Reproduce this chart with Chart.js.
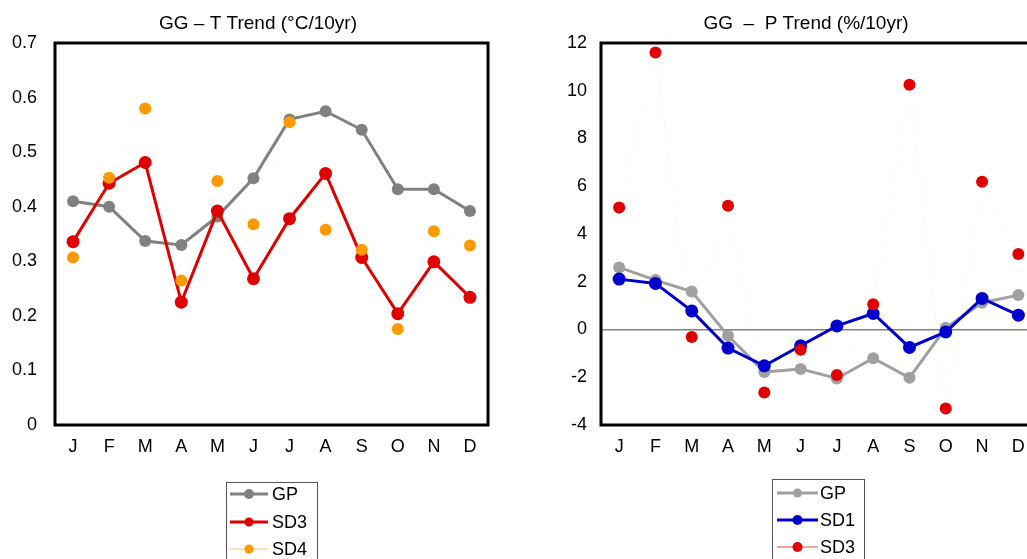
<!DOCTYPE html>
<html>
<head>
<meta charset="utf-8">
<script src="https://cdn.jsdelivr.net/npm/chart.js@4.4.1/dist/chart.umd.min.js"></script>
<style>
  html, body { margin: 0; padding: 0; background: #fff; overflow: hidden; width: 1027px; height: 559px; }
  canvas { position: absolute; top: 0; }
  #tChart { left: 0; }
  #pChart { left: 513px; }
</style>
</head>
<body>
<canvas id="tChart" width="513" height="559"></canvas>
<canvas id="pChart" width="530" height="559"></canvas>
<script>
// mois
const months = ['J', 'F', 'M', 'A', 'M', 'J', 'J', 'A', 'S', 'O', 'N', 'D'];

// tendance température (°C/10yr)
const tGP  = [0.41, 0.40, 0.337, 0.33, 0.382, 0.452, 0.56, 0.575, 0.541, 0.432, 0.432, 0.392];
const tSD3 = [0.336, 0.443, 0.481, 0.225, 0.392, 0.268, 0.378, 0.461, 0.307, 0.204, 0.299, 0.234];
const tSD4 = [0.307, 0.453, 0.58, 0.265, 0.447, 0.368, 0.555, 0.358, 0.321, 0.176, 0.355, 0.329];
const tTicks = [0, 0.1, 0.2, 0.3, 0.4, 0.5, 0.6, 0.7];

// tendance précipitations (%/10yr)
const pGP  = [2.6, 2.07, 1.59, -0.26, -1.78, -1.65, -2.05, -1.2, -2.02, 0.07, 1.12, 1.44];
const pSD1 = [2.11, 1.93, 0.78, -0.78, -1.52, -0.68, 0.15, 0.67, -0.75, -0.1, 1.3, 0.6];
const pSD3 = [5.11, 11.6, -0.31, 5.18, -2.64, -0.85, -1.91, 1.06, 10.25, -3.31, 6.19, 3.16];
const pTicks = [-4, -2, 0, 2, 4, 6, 8, 10, 12];

const FONT = '"Liberation Sans", Arial, sans-serif';
Chart.defaults.font.family = FONT;
Chart.defaults.font.size = 18;
Chart.defaults.color = '#000';

// titre dessiné à la main (position libre)
const titlePlugin = {
  id: 'freeTitle',
  afterDraw(chart, args, opts) {
    const ctx = chart.ctx;
    ctx.save();
    ctx.font = '19px ' + FONT;
    ctx.fillStyle = '#000';
    ctx.textAlign = 'center';
    ctx.textBaseline = 'middle';
    ctx.fillText(opts.text, opts.x, opts.y);
    ctx.restore();
  }
};

// cadre noir autour de la zone du graphique
const framePlugin = {
  id: 'frame',
  beforeDatasetsDraw(chart) {
    const a = chart.chartArea;
    const ctx = chart.ctx;
    ctx.save();
    ctx.strokeStyle = '#000';
    ctx.lineWidth = 3;
    ctx.strokeRect(a.left, a.top, a.right - a.left, a.bottom - a.top);
    ctx.restore();
  }
};

// légende encadrée sous le graphique
const boxLegendPlugin = {
  id: 'boxLegend',
  afterDraw(chart, args, opts) {
    const ctx = chart.ctx;
    ctx.save();
    ctx.strokeStyle = '#555';
    ctx.lineWidth = 1;
    ctx.strokeRect(opts.x + 0.5, opts.y + 0.5, opts.w, 200);
    opts.items.forEach((it, i) => {
      const y = opts.rows[i];
      ctx.strokeStyle = it.line;
      ctx.lineWidth = it.lw;
      ctx.beginPath();
      ctx.moveTo(opts.x1, y);
      ctx.lineTo(opts.x2, y);
      ctx.stroke();
      ctx.fillStyle = it.dot;
      ctx.beginPath();
      ctx.ellipse((opts.x1 + opts.x2) / 2, y, it.r, it.r, 0, 0, Math.PI * 2);
      ctx.fill();
      ctx.fillStyle = '#000';
      ctx.font = '18px ' + FONT;
      ctx.textBaseline = 'middle';
      ctx.fillText(it.label, opts.tx, y + 1);
    });
    ctx.restore();
  }
};

function lineSet(label, data, color, width, radius, order) {
  return {
    label: label,
    data: data,
    borderColor: color,
    backgroundColor: color,
    borderWidth: width,
    pointRadius: radius,
    pointHoverRadius: radius,
    pointBorderWidth: 0,
    tension: 0,
    fill: false,
    order: order
  };
}

//---------------------------------------- graphique température ----------------------------------------
const tDatasets = [
  lineSet('GP', tGP, '#808080', 3, 6, 3),
  lineSet('SD3', tSD3, '#e00000', 3, 6.5, 2),
  Object.assign(lineSet('SD4', tSD4, 'rgba(255,200,110,0.09)', 1, 6, 1), {
    pointBackgroundColor: '#ff9900'
  })
];

new Chart(document.getElementById('tChart').getContext('2d'), {
  type: 'line',
  data: { labels: months, datasets: tDatasets },
  plugins: [titlePlugin, framePlugin, boxLegendPlugin],
  options: {
    responsive: false,
    animation: false,
    layout: { padding: { top: 43, right: 25, bottom: 94, left: 0 } },
    plugins: {
      legend: { display: false },
      tooltip: { enabled: false },
      freeTitle: { text: 'GG – T Trend (°C/10yr)', x: 258, y: 24 },
      boxLegend: {
        x: 226, y: 482, w: 91, x1: 230, x2: 268, tx: 272,
        rows: [494, 522, 549],
        items: [
          { label: 'GP', line: '#808080', lw: 3, dot: '#808080', r: 5 },
          { label: 'SD3', line: '#e00000', lw: 3, dot: '#e00000', r: 4.5 },
          { label: 'SD4', line: '#ffc870', lw: 1.2, dot: '#ff9900', r: 4.5 }
        ]
      }
    },
    scales: {
      x: {
        offset: true,
        grid: { display: false, drawTicks: false },
        border: { display: false },
        ticks: { padding: 11, maxRotation: 0, autoSkip: false },
        afterFit: s => { s.height = 40; }
      },
      y: {
        min: 0,
        max: 0.7,
        afterBuildTicks: s => { s.ticks = tTicks.map(v => ({ value: v })); },
        grid: { display: false, drawTicks: false },
        border: { display: false },
        ticks: { padding: 18, callback: v => String(+v.toFixed(1)) },
        afterFit: s => { s.width = 55; }
      }
    }
  }
});

//---------------------------------------- graphique précipitations ----------------------------------------
const pDatasets = [
  lineSet('GP', pGP, '#a0a0a0', 3, 6, 3),
  lineSet('SD1', pSD1, '#0000cc', 3, 6.5, 2),
  Object.assign(lineSet('SD3', pSD3, 'rgba(240,160,170,0.08)', 1, 6, 1), {
    pointBackgroundColor: '#e00000'
  })
];

new Chart(document.getElementById('pChart').getContext('2d'), {
  type: 'line',
  data: { labels: months, datasets: pDatasets },
  plugins: [titlePlugin, framePlugin, boxLegendPlugin],
  options: {
    responsive: false,
    animation: false,
    layout: { padding: { top: 43, right: 5, bottom: 94, left: 0 } },
    plugins: {
      legend: { display: false },
      tooltip: { enabled: false },
      freeTitle: { text: 'GG  –  P Trend (%/10yr)', x: 293, y: 24 },
      boxLegend: {
        x: 259, y: 479, w: 92, x1: 264, x2: 305, tx: 307,
        rows: [493, 520, 547],
        items: [
          { label: 'GP', line: '#a0a0a0', lw: 3, dot: '#a0a0a0', r: 4.5 },
          { label: 'SD1', line: '#0000cc', lw: 3, dot: '#0000cc', r: 5 },
          { label: 'SD3', line: '#f08080', lw: 1.5, dot: '#e00000', r: 5 }
        ]
      }
    },
    scales: {
      x: {
        offset: true,
        grid: { display: false, drawTicks: false },
        border: { display: false },
        ticks: { padding: 11, maxRotation: 0, autoSkip: false },
        afterFit: s => { s.height = 40; }
      },
      y: {
        min: -4,
        max: 12,
        afterBuildTicks: s => { s.ticks = pTicks.map(v => ({ value: v })); },
        grid: {
          drawTicks: false,
          color: c => (c.tick && c.tick.value === 0 ? '#808080' : 'rgba(0,0,0,0)'),
          lineWidth: 1.5
        },
        border: { display: false },
        ticks: { padding: 14 },
        afterFit: s => { s.width = 88; }
      }
    }
  }
});
</script>
</body>
</html>
